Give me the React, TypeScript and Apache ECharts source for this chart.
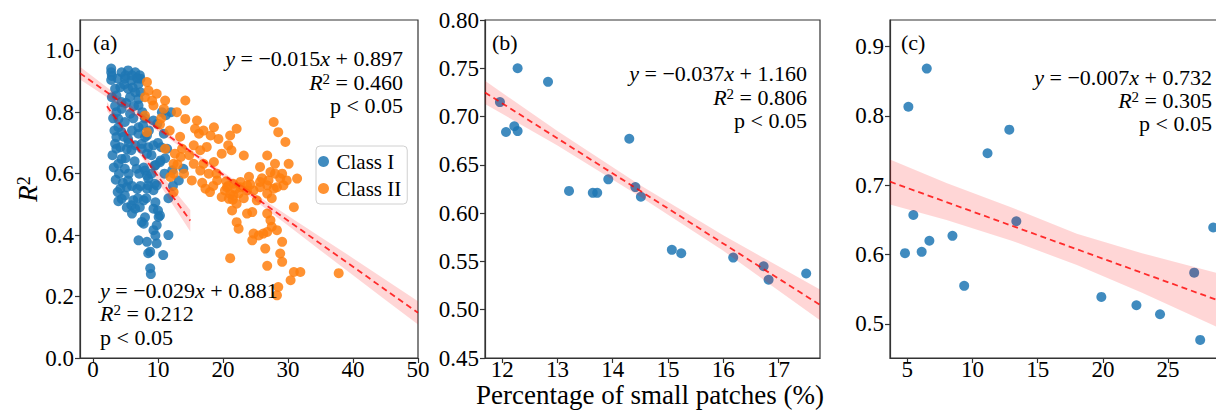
import React, { useEffect, useRef } from 'react';
import * as echarts from 'echarts';

const FONT = '"Liberation Serif", "Times New Roman", serif';

// ---------- Panel (a) data ----------
const classI: number[][] = [
  [2.8, 0.942], [2.8, 0.930], [2.9, 0.918], [2.8, 0.905], [4.4, 0.930], [5.4, 0.936], [6.5, 0.930], [7.2, 0.920],
  [4.9, 0.909], [5.9, 0.903], [4.2, 0.881], [3.4, 0.876], [5.4, 0.876], [7.0, 0.892], [6.5, 0.865], [3.6, 0.854],
  [2.9, 0.849], [4.4, 0.833], [5.7, 0.849], [7.0, 0.843], [4.4, 0.811], [5.7, 0.795], [3.6, 0.800], [7.0, 0.822],
  [3.9, 0.778], [4.9, 0.768], [3.9, 0.751], [7.0, 0.751], [7.7, 0.757], [7.0, 0.730], [4.4, 0.735], [3.6, 0.719],
  [5.4, 0.713], [3.4, 0.697], [8.0, 0.719], [6.5, 0.692], [7.5, 0.697], [4.2, 0.686], [8.5, 0.686],
  [3.6, 0.681], [5.9, 0.676], [7.5, 0.681], [8.3, 0.665], [4.4, 0.648], [3.9, 0.632], [4.9, 0.616], [6.7, 0.616],
  [8.0, 0.610], [9.5, 0.627], [10.3, 0.637], [8.5, 0.583], [5.4, 0.578], [4.2, 0.551], [4.9, 0.529], [5.2, 0.556],
  [8.5, 0.562], [9.5, 0.567], [9.3, 0.546], [4.4, 0.518], [6.2, 0.513], [6.5, 0.486], [7.2, 0.491], [5.9, 0.497],
  [8.0, 0.458], [7.5, 0.443], [9.3, 0.486], [10.0, 0.480], [10.3, 0.464], [9.8, 0.432], [11.6, 0.400], [9.3, 0.416],
  [7.0, 0.383], [8.3, 0.378], [9.8, 0.373], [8.8, 0.346], [10.8, 0.335], [8.5, 0.341], [8.8, 0.292], [8.9, 0.273],
  [7.3, 0.909], [7.3, 0.865], [9.3, 0.773], [9.9, 0.762], [10.6, 0.800], [8.3, 0.724], [9.3, 0.692], [10.5, 0.686],
  [11.4, 0.681], [10.4, 0.643], [9.6, 0.627], [13.9, 0.616], [13.2, 0.578], [12.2, 0.611], [8.3, 0.594], [9.8, 0.562],
  [8.3, 0.551], [11.2, 0.790], [12.0, 0.800], [10.9, 0.730], [11.1, 0.650], [9.6, 0.399], [7.8, 0.437], [10.1, 0.459],
  [7.8, 0.513], [9.6, 0.507], [3.2, 0.620], [3.0, 0.660], [3.3, 0.740], [3.1, 0.780], [3.4, 0.820], [4.0, 0.600],
  [4.6, 0.570], [5.0, 0.650], [5.5, 0.700], [6.0, 0.740], [6.2, 0.780], [5.1, 0.830], [6.1, 0.880], [4.8, 0.890],
  [3.8, 0.910], [5.0, 0.920], [6.0, 0.920], [6.8, 0.910], [5.5, 0.600], [6.0, 0.560], [6.8, 0.550], [7.1, 0.600],
  [7.8, 0.620], [6.4, 0.640], [5.2, 0.680], [4.7, 0.720], [6.3, 0.820], [8.0, 0.780], [7.6, 0.800], [8.6, 0.740],
  [3.5, 0.580], [3.8, 0.540], [3.9, 0.510], [5.2, 0.490], [6.0, 0.470], [6.9, 0.520], [7.3, 0.560], [8.2, 0.520],
  [9.0, 0.600], [9.0, 0.660], [10.0, 0.700], [11.0, 0.600], [12.3, 0.560], [11.6, 0.520],
];

const classII: number[][] = [
  [8.3, 0.898], [8.55, 0.870], [8.0, 0.849], [9.1, 0.838], [9.3, 0.822], [11.1, 0.838], [10.9, 0.811], [14.2, 0.838],
  [12.9, 0.800], [14.2, 0.778], [16.0, 0.773], [15.7, 0.746], [16.3, 0.730], [17.0, 0.740], [18.6, 0.751], [18.1, 0.724],
  [19.3, 0.713], [21.1, 0.724], [22.1, 0.746], [20.8, 0.692], [17.5, 0.687], [16.5, 0.676], [15.5, 0.692], [13.7, 0.681],
  [12.6, 0.665], [13.5, 0.654], [12.4, 0.632], [11.1, 0.681], [8.3, 0.735], [8.0, 0.789], [19.8, 0.665], [23.2, 0.659],
  [21.3, 0.676], [18.6, 0.638], [17.0, 0.632], [15.5, 0.632], [16.5, 0.610], [17.8, 0.600], [15.2, 0.578], [12.4, 0.600],
  [11.9, 0.589], [19.1, 0.578], [20.6, 0.556], [21.6, 0.567], [22.7, 0.573], [23.7, 0.562], [27.8, 0.768], [28.5, 0.735],
  [29.6, 0.703], [26.8, 0.659], [28.0, 0.632], [30.1, 0.632], [25.7, 0.622], [27.3, 0.605], [29.1, 0.600], [31.4, 0.584],
  [29.8, 0.578], [25.7, 0.573], [26.8, 0.562], [28.3, 0.556], [24.7, 0.545], [21.1, 0.534], [19.8, 0.524],
  [12.4, 0.540], [17.3, 0.551], [18.0, 0.540], [20.9, 0.518], [21.6, 0.529], [22.7, 0.556], [22.1, 0.502], [23.7, 0.545],
  [25.7, 0.556], [26.8, 0.535], [27.8, 0.551], [29.3, 0.562], [25.2, 0.513], [21.4, 0.480], [23.7, 0.470], [24.5, 0.475],
  [22.1, 0.442], [22.4, 0.421], [26.8, 0.470], [27.3, 0.448], [27.5, 0.427], [28.3, 0.416], [24.7, 0.405], [26.2, 0.405],
  [25.5, 0.399], [24.5, 0.383], [26.8, 0.410], [29.1, 0.378], [28.8, 0.340], [29.1, 0.313], [26.5, 0.356], [26.8, 0.300],
  [21.1, 0.325], [30.9, 0.280], [31.9, 0.280], [30.4, 0.253], [28.5, 0.231], [28.3, 0.204], [37.8, 0.276], [30.9, 0.491],
  [20.3, 0.545], [20.8, 0.560], [21.9, 0.550], [22.4, 0.535], [23.2, 0.520], [21.5, 0.515], [20.5, 0.575], [24.2, 0.565],
  [26.0, 0.585], [27.0, 0.578], [28.8, 0.585], [28.0, 0.600], [27.5, 0.520], [24.0, 0.590], [19.0, 0.600], [18.5, 0.560],
  [16.8, 0.570], [14.0, 0.600], [13.0, 0.630], [14.8, 0.660], [10.5, 0.780], [9.8, 0.860], [10.3, 0.760], [11.8, 0.740],
  [13.4, 0.720],
];

// ---------- Panel (b) / (c) data ----------
const panelB: number[][] = [
  [11.96, 0.715], [12.07, 0.684], [12.22, 0.690], [12.28, 0.685], [12.28, 0.750], [12.83, 0.736], [14.30, 0.677],
  [13.21, 0.623], [13.64, 0.621], [13.72, 0.621], [13.92, 0.635], [14.41, 0.627], [14.51, 0.617], [15.07, 0.562],
  [15.24, 0.5585], [16.18, 0.554], [16.73, 0.545], [16.82, 0.531], [17.50, 0.5375],
];

const panelC: number[][] = [
  [6.49, 0.868], [5.08, 0.813], [11.15, 0.746], [12.82, 0.780], [4.82, 0.602], [5.46, 0.657], [6.10, 0.604],
  [6.69, 0.620], [8.46, 0.627], [9.36, 0.555], [13.36, 0.648], [19.88, 0.539], [22.57, 0.527], [24.38, 0.514],
  [27.00, 0.574], [27.46, 0.477], [28.46, 0.639],
];

// ---------- Regression lines and confidence bands ----------
const lineAAll: number[][] = [[-2, 0.927], [50, 0.147]];
const bandAAllX = [-2, 5, 10, 15, 20, 25, 30, 35, 40, 45, 50];
const bandAAllLo = [0.906, 0.809, 0.738, 0.665, 0.589, 0.511, 0.431, 0.350, 0.269, 0.189, 0.109];
const bandAAllHi = [0.948, 0.835, 0.756, 0.679, 0.605, 0.533, 0.463, 0.394, 0.325, 0.255, 0.185];

const lineAI: number[][] = [[2.15, 0.819], [14.97, 0.447]];
const bandAIX = [2.15, 4, 6, 8, 10, 12, 14.97];
const bandAILo = [0.805, 0.756, 0.699, 0.638, 0.574, 0.508, 0.412];
const bandAIHi = [0.833, 0.774, 0.715, 0.660, 0.608, 0.558, 0.482];

const lineB: number[][] = [[11.69, 0.725], [17.75, 0.505]];
const bandBX = [11.69, 13, 14.5, 16, 17.75];
const bandBLo = [0.713, 0.670, 0.617, 0.561, 0.489];
const bandBHi = [0.737, 0.685, 0.629, 0.577, 0.521];

const lineC: number[][] = [[3.67, 0.705], [29.44, 0.530]];
const bandCX = [3.67, 8, 13, 18, 23, 29.44];
const bandCLo = [0.672, 0.650, 0.620, 0.585, 0.545, 0.490];
const bandCHi = [0.737, 0.703, 0.668, 0.630, 0.602, 0.570];

// ---------- Ticks ----------
const ticksAX = [0, 10, 20, 30, 40, 50];
const ticksAY = [0, 0.2, 0.4, 0.6, 0.8, 1.0];
const ticksBX = [12, 13, 14, 15, 16, 17];
const ticksBY = [0.45, 0.5, 0.55, 0.6, 0.65, 0.7, 0.75, 0.8];
const ticksCX = [5, 10, 15, 20, 25];
const ticksCY = [0.5, 0.6, 0.7, 0.8, 0.9];

const AXIS_COLOR = '#333';
const BLUE = '#1f77b4';
const ORANGE = '#ff7f0e';
const TICK_SIZE = 23;
const TEXT_SIZE = 22;

function makeAxis(kind: 'x' | 'y', grid: number, min: number, max: number, ticks: number[], dec: number) {
  return {
    type: 'value',
    gridIndex: grid,
    min,
    max,
    axisLine: { show: true, onZero: false, lineStyle: { color: AXIS_COLOR, width: 1.2 } },
    axisTick: { show: true, inside: false, length: 5, customValues: ticks, lineStyle: { color: AXIS_COLOR, width: 1.2 } },
    axisLabel: {
      customValues: ticks,
      formatter: (v: number) => v.toFixed(dec),
      color: '#000',
      fontFamily: FONT,
      fontSize: TICK_SIZE,
      lineHeight: 20,
      margin: kind === 'x' ? 1 : 6,
    },
    splitLine: { show: false },
  };
}

function bandSeries(idx: number, xs: number[], lo: number[], hi: number[]) {
  return {
    type: 'custom',
    xAxisIndex: idx,
    yAxisIndex: idx,
    silent: true,
    z: 4,
    data: [[xs[0], lo[0]]],
    renderItem: (_params: any, api: any) => {
      const up = xs.map((x, k) => api.coord([x, hi[k]]));
      const down = xs.map((x, k) => api.coord([x, lo[k]])).reverse();
      return {
        type: 'polygon',
        shape: { points: up.concat(down) },
        style: { fill: 'rgba(255,0,0,0.16)', stroke: 'none' },
      };
    },
  };
}

function lineSeries(idx: number, data: number[][]) {
  return {
    type: 'line',
    xAxisIndex: idx,
    yAxisIndex: idx,
    data,
    symbol: 'none',
    silent: true,
    z: 5,
    lineStyle: { color: 'rgba(255,0,0,0.8)', width: 1.8, type: [6, 4] },
  };
}

function scatterSeries(name: string, idx: number, data: number[][], color: string) {
  return {
    type: 'scatter',
    name,
    xAxisIndex: idx,
    yAxisIndex: idx,
    data,
    symbolSize: 10,
    itemStyle: { color, opacity: 0.85 },
    z: 3,
  };
}

const RICH = {
  n: { fontFamily: FONT, fontSize: TEXT_SIZE, fill: '#000' },
  i: { fontFamily: FONT, fontSize: TEXT_SIZE, fontStyle: 'italic', fill: '#000' },
  s: { fontFamily: FONT, fontSize: 15, fill: '#000', verticalAlign: 'top' },
};

function txt(x: number, y: number, text: string, align: 'left' | 'right' | 'center' = 'left') {
  return {
    type: 'text',
    x,
    y,
    z: 100,
    style: {
      text,
      align,
      textAlign: align,
      verticalAlign: 'middle',
      textVerticalAlign: 'middle',
      fontFamily: FONT,
      fontSize: TEXT_SIZE,
      fill: '#000',
      rich: RICH,
    },
  };
}

function eqLines(x: number, ys: number[], align: 'left' | 'right', slope: string, icpt: string, r2: string) {
  return [
    txt(x, ys[0], `{i|y}{n| = −${slope}}{i|x}{n| + ${icpt}}`, align),
    txt(x, ys[1], `{i|R}{s|2}{n| = ${r2}}`, align),
    txt(x, ys[2], `{n|p < 0.05}`, align),
  ];
}

export default function App() {
  const ref = useRef<HTMLDivElement>(null);

  useEffect(() => {
    if (!ref.current) return;
    const chart = echarts.init(ref.current, undefined, { renderer: 'svg' });
    const gridBase = { top: 20, height: 338, show: true, borderColor: AXIS_COLOR, borderWidth: 1.2, backgroundColor: 'transparent' };
    const option: any = {
      animation: false,
      backgroundColor: '#fff',
      grid: [
        { ...gridBase, left: 80, width: 338 },
        { ...gridBase, left: 485, width: 335 },
        { ...gridBase, left: 890, width: 336 },
      ],
      xAxis: [
        makeAxis('x', 0, -2, 50, ticksAX, 0),
        makeAxis('x', 1, 11.69, 17.75, ticksBX, 0),
        makeAxis('x', 2, 3.67, 29.44, ticksCX, 0),
      ],
      yAxis: [
        makeAxis('y', 0, 0, 1.1, ticksAY, 1),
        makeAxis('y', 1, 0.45, 0.8, ticksBY, 2),
        makeAxis('y', 2, 0.451, 0.938, ticksCY, 1),
      ],
      legend: {
        data: ['Class I', 'Class II'],
        orient: 'vertical',
        left: 316,
        top: 146,
        itemWidth: 16,
        itemHeight: 11,
        itemGap: 6,
        icon: 'circle',
        padding: [5, 6, 5, 2],
        borderColor: '#d0d0d0',
        borderWidth: 1,
        borderRadius: 4,
        backgroundColor: 'rgba(255,255,255,0.8)',
        textStyle: { fontFamily: FONT, fontSize: 21, color: '#000' },
      },
      series: [
        scatterSeries('Class I', 0, classI, BLUE),
        scatterSeries('Class II', 0, classII, ORANGE),
        scatterSeries('b', 1, panelB, BLUE),
        scatterSeries('c', 2, panelC, BLUE),
        bandSeries(0, bandAAllX, bandAAllLo, bandAAllHi),
        bandSeries(0, bandAIX, bandAILo, bandAIHi),
        bandSeries(1, bandBX, bandBLo, bandBHi),
        bandSeries(2, bandCX, bandCLo, bandCHi),
        lineSeries(0, lineAAll),
        lineSeries(0, lineAI),
        lineSeries(1, lineB),
        lineSeries(2, lineC),
      ],
      graphic: [
        txt(93, 42, '(a)'),
        txt(492, 42, '(b)'),
        txt(901, 42, '(c)'),
        ...eqLines(403, [58, 82, 105], 'right', '0.015', '0.897', '0.460'),
        ...eqLines(100, [290, 313, 337], 'left', '0.029', '0.881', '0.212'),
        ...eqLines(807, [73, 97, 120], 'right', '0.037', '1.160', '0.806'),
        ...eqLines(1212, [77, 100, 123], 'right', '0.007', '0.732', '0.305'),
        {
          type: 'text',
          x: 650,
          y: 395,
          z: 100,
          style: {
            text: 'Percentage of small patches (%)',
            align: 'center',
            textAlign: 'center',
            verticalAlign: 'middle',
            textVerticalAlign: 'middle',
            fontFamily: FONT,
            fontSize: 27,
            lineHeight: 22,
            fill: '#000',
          },
        },
        {
          type: 'text',
          x: 28,
          y: 189,
          rotation: Math.PI / 2,
          z: 100,
          style: {
            text: '{r|R}{s|2}',
            align: 'center',
            textAlign: 'center',
            verticalAlign: 'middle',
            textVerticalAlign: 'middle',
            fontFamily: FONT,
            fontSize: 27,
            fill: '#000',
            rich: {
              r: { fontFamily: FONT, fontSize: 27, fontStyle: 'italic', fill: '#000' },
              s: { fontFamily: FONT, fontSize: 18, fill: '#000', verticalAlign: 'top' },
            },
          },
        },
      ],
    };
    chart.setOption(option);
    return () => chart.dispose();
  }, []);

  return (
    <div style={{ position: 'absolute', left: 0, top: 0, width: 1216, height: 411, overflow: 'hidden', background: '#fff' }}>
      <div ref={ref} style={{ width: 1240, height: 411 }} />
    </div>
  );
}
